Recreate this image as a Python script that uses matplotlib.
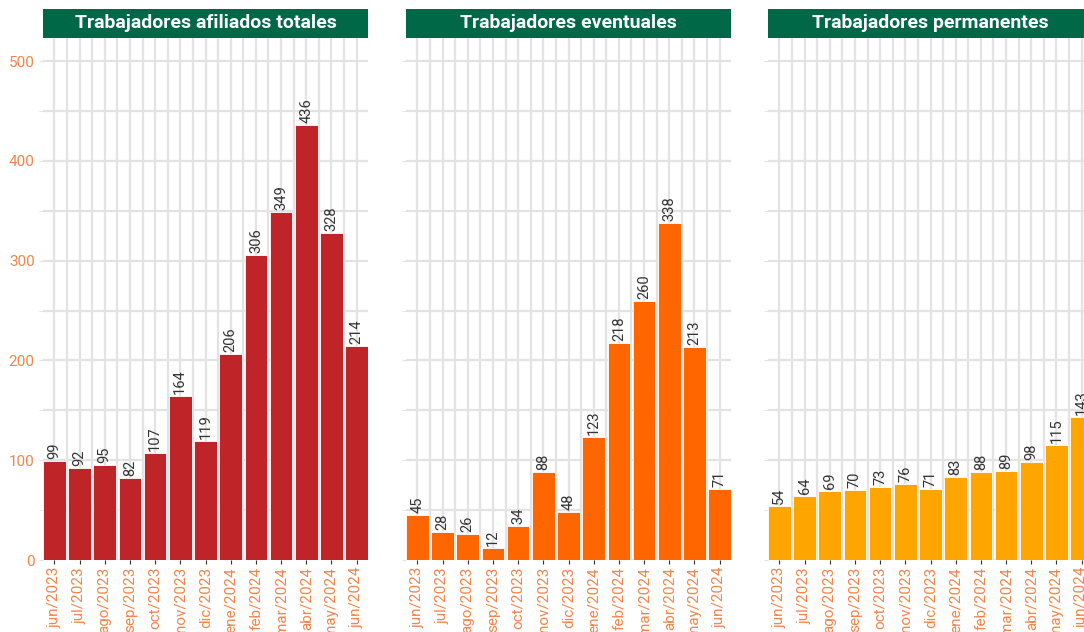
import matplotlib
matplotlib.use("Agg")
import matplotlib.pyplot as plt
import numpy as np

plt.rcParams['font.family'] = ['Roboto', 'DejaVu Sans']

meses = ["jun/2023", "jul/2023", "ago/2023", "sep/2023", "oct/2023", "nov/2023",
         "dic/2023", "ene/2024", "feb/2024", "mar/2024", "abr/2024", "may/2024",
         "jun/2024"]
totales = [99, 92, 95, 82, 107, 164, 119, 206, 306, 349, 436, 328, 214]
eventuales = [45, 28, 26, 12, 34, 88, 48, 123, 218, 260, 338, 213, 71]
permanentes = [54, 64, 69, 70, 73, 76, 71, 83, 88, 89, 98, 115, 143]

titulos = ["Trabajadores afiliados totales", "Trabajadores eventuales",
           "Trabajadores permanentes"]
series = [totales, eventuales, permanentes]
colores = ["#bf2528", "#ff6600", "#ffa500"]

W, H = 1084, 632
fig = plt.figure(figsize=(W / 100, H / 100), dpi=100)
fig.patch.set_facecolor("white")

lefts = [43, 406, 768]
pw = 325
top, bottom = 38, 560
ymax = max(totales) * 1.2
label_col = "#f5844a"
grid_col = "#e3e3e3"

x = np.arange(1, len(meses) + 1)
for i, (titulo, vals, col) in enumerate(zip(titulos, series, colores)):
    ax = fig.add_axes([lefts[i] / W, (H - bottom) / H, pw / W, (bottom - top) / H])
    ax.bar(x, vals, width=0.9, color=col, edgecolor="white", linewidth=0.6, zorder=3)
    for xi, v in zip(x, vals):
        ax.text(xi, v + 2, str(v), rotation=90, ha="center", va="bottom",
                fontsize=10.5, color="#333333", zorder=4)
    ax.set_xlim(0.55, len(meses) + 0.45)
    ax.set_ylim(0, ymax)
    ax.set_yticks([0, 100, 200, 300, 400, 500])
    ax.set_yticks(np.arange(50, 523, 100), minor=True)
    ax.set_xticks(x)
    ax.set_xticks(x[:-1] + 0.5, minor=True)
    ax.set_xticklabels(meses, rotation=90, fontsize=11, color=label_col)
    ax.tick_params(axis="x", which="major", length=3, color="#333333", pad=2)
    ax.tick_params(axis="x", which="minor", length=0)
    ax.tick_params(axis="y", which="both", length=3, color=grid_col, pad=3)
    if i == 0:
        ax.set_yticklabels(["0", "100", "200", "300", "400", "500"], fontsize=11,
                           color=label_col)
    else:
        ax.set_yticklabels([])
    ax.grid(True, which="both", color=grid_col, linewidth=1.6, zorder=0)
    ax.set_axisbelow(True)
    for s in ax.spines.values():
        s.set_visible(False)

    # strip title
    sax = fig.add_axes([lefts[i] / W, (H - top) / H, pw / W, 29 / H])
    sax.set_facecolor("#006747")
    sax.set_xticks([])
    sax.set_yticks([])
    for s in sax.spines.values():
        s.set_visible(False)
    sax.text(0.5, 0.5, titulo, ha="center", va="center", color="white",
             fontsize=14, fontweight="bold", transform=sax.transAxes)

fig.savefig("out.png", dpi=100)
